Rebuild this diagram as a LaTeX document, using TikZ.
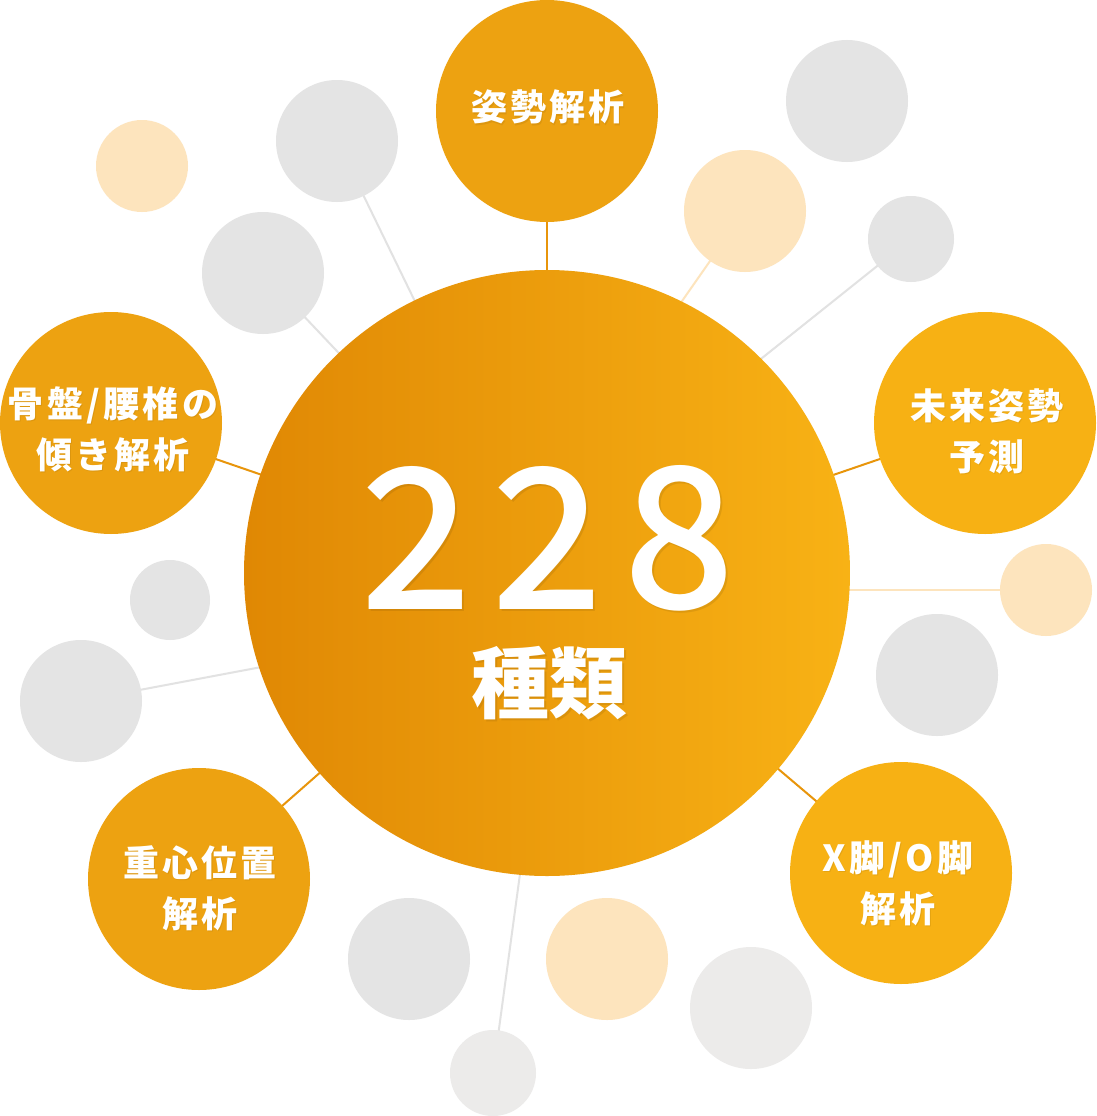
\documentclass[tikz,border=0pt]{standalone}
\usepackage{fontspec}
\setmainfont{Noto Sans CJK JP}
\newfontfamily\jpspaced{Noto Sans CJK JP}[LetterSpace=9]
\IfFontExistsTF{Noto Sans CJK JP Medium}
  {\newfontfamily\jpnum{Noto Sans CJK JP Medium}\newcommand\numweight{\mdseries}}
  {\newfontfamily\jpnum{Noto Sans CJK JP}\newcommand\numweight{\bfseries}}
\definecolor{bigL}{HTML}{E08804}
\definecolor{bigR}{HTML}{F8B215}
\definecolor{orA}{HTML}{EDA211}
\definecolor{orB}{HTML}{F7B114}
\definecolor{grayC}{HTML}{E4E4E4}
\definecolor{grayL}{HTML}{ECEBEA}
\definecolor{peach}{HTML}{FDE4BD}
\definecolor{lineO}{HTML}{E8950B}
\definecolor{lineG}{HTML}{E2E2E2}
\pgfdeclarelayer{bg}
\pgfsetlayers{bg,main}
\tikzset{
  bubble/.style={circle, inner sep=0pt, draw=none, minimum size=#1},
  lbl/.style={text=white, align=center, inner sep=0pt,
    font=\jpspaced\bfseries\fontsize{36}{51}\selectfont},
  lblshadow/.style={text=black, opacity=0.07, align=center, inner sep=0pt,
    font=\jpspaced\bfseries\fontsize{36}{51}\selectfont},
  olink/.style={draw=lineO, line width=2pt},
  glink/.style={draw=lineG, line width=2pt},
  plink/.style={draw=peach, line width=2pt},
  num/.style={text=white, inner sep=0pt, font=\jpnum\numweight\fontsize{196}{196}\selectfont},
  numsh/.style={text=black, opacity=0.08, inner sep=0pt, font=\jpnum\numweight\fontsize{196}{196}\selectfont},
  kind/.style={text=white, inner sep=0pt, font=\jpnum\bfseries\fontsize{78}{78}\selectfont},
  kindsh/.style={text=black, opacity=0.08, inner sep=0pt, font=\jpnum\bfseries\fontsize{78}{78}\selectfont},
}
\begin{document}
\begin{tikzpicture}[x=1pt,y=-1pt]
\useasboundingbox (0,0) rectangle (1096,1116);

% big circle
\node[bubble=606pt] (big) at (547,573) {};
\shade[left color=bigL, right color=bigR] (big.center) circle (303pt);

% orange topic circles
\node[bubble=222pt, fill=orA] (t1) at (547,111) {};
\node[bubble=222pt, fill=orA] (t2) at (111,423) {};
\node[bubble=222pt, fill=orB] (t3) at (985,423) {};
\node[bubble=222pt, fill=orA] (t4) at (199,879) {};
\node[bubble=222pt, fill=orB] (t5) at (901,873) {};

% gray circles
\node[bubble=122pt, fill=grayC] (g1) at (337,141) {};
\node[bubble=122pt, fill=grayC] (g2) at (847,101) {};
\node[bubble=122pt, fill=grayC] (g3) at (263,273) {};
\node[bubble=86pt,  fill=grayC] (g4) at (911,239) {};
\node[bubble=80pt,  fill=grayC] (g5) at (170,600) {};
\node[bubble=122pt, fill=grayC] (g6) at (81,701) {};
\node[bubble=122pt, fill=grayC] (g7) at (937,675) {};
\node[bubble=122pt, fill=grayC] (g8) at (409,959) {};
\node[bubble=122pt, fill=grayL] (g9) at (751,1008) {};
\node[bubble=86pt,  fill=grayL] (g10) at (493,1073) {};

% peach circles
\node[bubble=92pt,  fill=peach] (p1) at (142,166) {};
\node[bubble=122pt, fill=peach] (p2) at (745,211) {};
\node[bubble=92pt,  fill=peach] (p3) at (1046,590) {};
\node[bubble=122pt, fill=peach] (p4) at (607,959) {};

% aim points inside the big circle
\coordinate (a4) at (702,406);
\coordinate (a2) at (652,344);
\coordinate (a6) at (320,656);
\coordinate (a10) at (530,800);

\begin{pgfonlayer}{bg}
  \fill[white] (0,0) rectangle (1096,1116);
  \draw[olink] (t1.center) -- (big.center);
  \draw[olink] (t2.center) -- (big.center);
  \draw[olink] (t3.center) -- (big.center);
  \draw[olink] (t4.center) -- (big.center);
  \draw[olink] (t5.center) -- (big.center);
  \draw[glink] (g1.center) -- (big.center);
  \draw[glink] (g3.center) -- (big.center);
  \draw[glink] (g4.center) -- (a4);
  \draw[glink] (g6.center) -- (a6);
  \draw[glink] (g10.center) -- (a10);
  \draw[plink] (p2.center) -- (a2);
  \draw[plink] (p3.center) -- (p3.center -| big.center);
\end{pgfonlayer}

% labels
\node[lblshadow] (s1) at (549,108.5) {姿勢解析};
\node[lbl] (l1) at (548,107) {姿勢解析};
\node[lblshadow] (s2) at (114,430.5) {骨盤/腰椎の\\傾き解析};
\node[lbl] (l2) at (113,429) {骨盤/腰椎の\\傾き解析};
\node[lblshadow] (s3) at (988,432.5) {未来姿勢\\予測};
\node[lbl] (l3) at (987,431) {未来姿勢\\予測};
\node[lblshadow] (s4) at (201,889.5) {重心位置\\解析};
\node[lbl] (l4) at (200,888) {重心位置\\解析};
\node[lblshadow] (s5) at (899,884.5) {X脚/O脚\\解析};
\node[lbl] (l5) at (898,883) {X脚/O脚\\解析};

% big number
\node[numsh] (n1s) at (418,540) {2};
\node[numsh] (n2s) at (549,540) {2};
\node[numsh] (n3s) at (681,540) {8};
\node[num] (n1) at (416,538) {2};
\node[num] (n2) at (547,538) {2};
\node[num] (n3) at (679,538) {8};
\node[kindsh] (k1s) at (551,685) {種類};
\node[kind] (k1) at (549,683) {種類};
\end{tikzpicture}
\end{document}
